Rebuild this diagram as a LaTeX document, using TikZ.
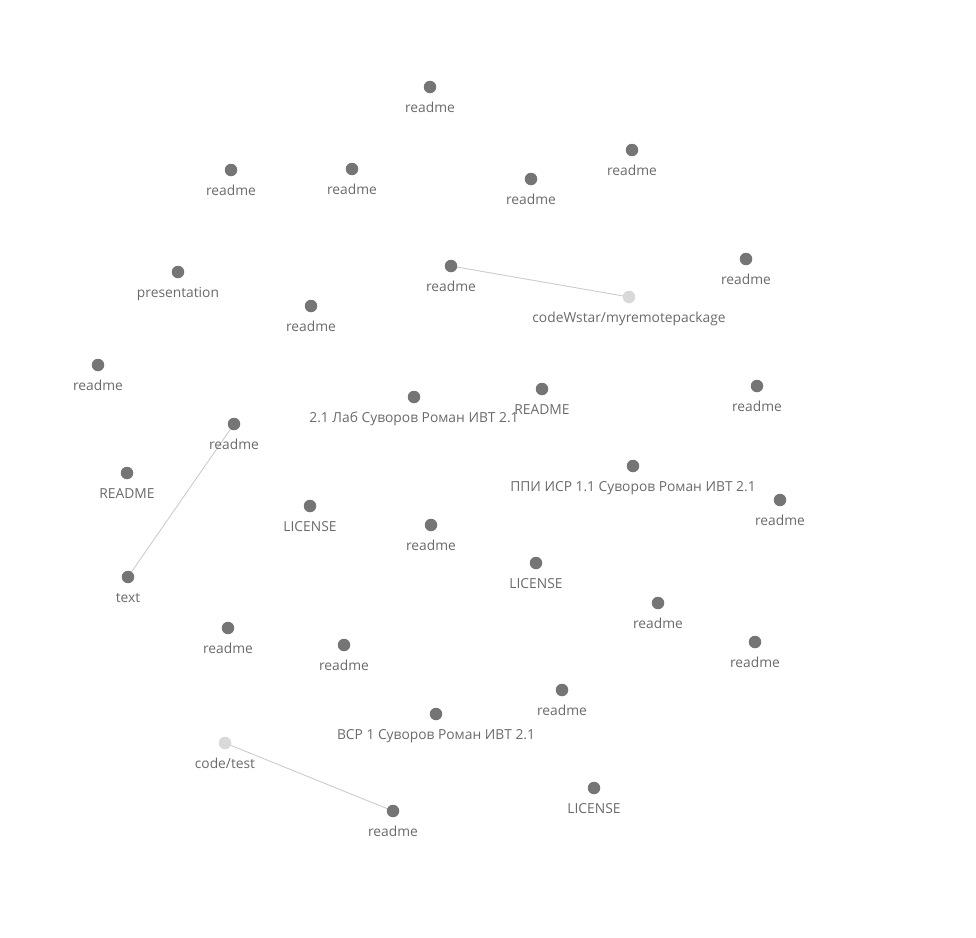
\documentclass[tikz,border=0pt]{standalone}
\usepackage{fontspec}
\setmainfont{Open Sans}
\usetikzlibrary{backgrounds}
\definecolor{dotgray}{HTML}{757575}
\definecolor{lightdot}{HTML}{D9D9D9}
\definecolor{txtgray}{HTML}{6A6A6A}
\definecolor{edgegray}{HTML}{CCCCCC}
\tikzset{
  dot/.style={circle,fill=dotgray,inner sep=0pt,minimum size=12.5pt},
  ldot/.style={circle,fill=lightdot,inner sep=0pt,minimum size=12.5pt},
  lbl/.style={text=txtgray,font=\fontsize{13.8}{15}\selectfont,inner sep=0pt,anchor=base},
  link/.style={draw=edgegray,line width=0.9pt}
}
\newcommand{\gnode}[5][dot]{%
  \node[#1] (#2) at (#3) {};
  \node[lbl] (#2l) at ([yshift=-25pt]#2.center) {#5};
}
\begin{document}
\begin{tikzpicture}[x=1pt,y=-1pt]
\useasboundingbox (0,0) rectangle (976,937);
\gnode{n1}{430,87}{}{readme}
\gnode{n2}{231,170}{}{readme}
\gnode{n3}{352,169}{}{readme}
\gnode{n4}{531,179}{}{readme}
\gnode{n5}{632,150}{}{readme}
\gnode{n6}{451,266}{}{readme}
\gnode[ldot]{n7}{629,297}{}{codeWstar/myremotepackage}
\gnode{n8}{746,259}{}{readme}
\gnode{n9}{178,272}{}{presentation}
\gnode{n10}{311,306}{}{readme}
\gnode{n11}{98,365}{}{readme}
\gnode{n12}{414,397}{}{2.1 Лаб Суворов Роман ИВТ 2.1}
\gnode{n13}{542,389}{}{README}
\gnode{n14}{757,386}{}{readme}
\gnode{n15}{234,424}{}{readme}
\gnode{n16}{127,473}{}{README}
\gnode{n17}{633,466}{}{ППИ ИСР 1.1 Суворов Роман ИВТ 2.1}
\gnode{n18}{780,500}{}{readme}
\gnode{n19}{310,506}{}{LICENSE}
\gnode{n20}{431,525}{}{readme}
\gnode{n21}{536,563}{}{LICENSE}
\gnode{n22}{128,577}{}{text}
\gnode{n23}{658,603}{}{readme}
\gnode{n24}{228,628}{}{readme}
\gnode{n25}{344,645}{}{readme}
\gnode{n26}{755,642}{}{readme}
\gnode{n27}{562,690}{}{readme}
\gnode{n28}{436,714}{}{ВСР 1 Суворов Роман ИВТ 2.1}
\gnode[ldot]{n29}{225,743}{}{code/test}
\gnode{n30}{393,811}{}{readme}
\gnode{n31}{594,788}{}{LICENSE}
\begin{scope}[on background layer]
\draw[link] (n6.center) -- (n7.center);
\draw[link] (n15.center) -- (n22.center);
\draw[link] (n29.center) -- (n30.center);
\end{scope}
\end{tikzpicture}
\end{document}
